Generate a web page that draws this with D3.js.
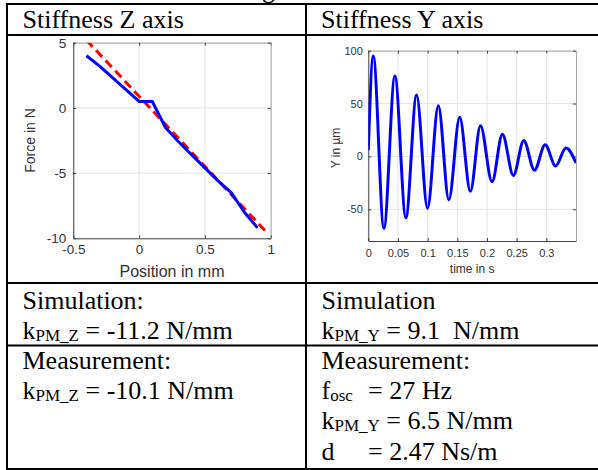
<!DOCTYPE html>
<html>
<head>
<meta charset="utf-8">
<script src="https://cdn.jsdelivr.net/npm/d3@7"></script>
<style>
  body { margin: 0; background: #fff; }
  svg { display: block; }
  .cell { font-family: "Liberation Serif", "Times New Roman", serif; font-size: 26px; fill: #000; white-space: pre; }
  .plot text { font-family: "Liberation Sans", Arial, sans-serif; fill: #333; }
  .plot .tick line { stroke: #444; }
  .plot .box .domain { stroke: #aaa; }
</style>
</head>
<body>
<div id="chart"></div>
<script>
const WIDTH = 598;
const HEIGHT = 470;

// Stiffness Z: force over position
const zPosition = [-0.4, -0.3, -0.2, -0.1, 0, 0.1, 0.2, 0.3, 0.4, 0.5, 0.6, 0.7, 0.8, 0.9];
const zForce = [4.0, 3.2, 2.3, 1.4, 0.5, 0.5, -1.5, -2.6, -3.6, -4.6, -5.6, -6.5, -8.0, -9.2];
const zFitPosition = [-0.4, 0.97];
const zFitForce = [5.2, -9.55];
const zXTicks = [-0.5, 0, 0.5, 1];
const zYTicks = [-10, -5, 0, 5];

// Stiffness Y: decaying oscillation (start, extrema, end)
const yTime = [0, 0.0084, 0.0263, 0.0448, 0.0633, 0.0813, 0.0998, 0.118, 0.1357, 0.154, 0.172,
               0.189, 0.2085, 0.226, 0.2444, 0.262, 0.280, 0.298, 0.3156, 0.333, 0.35];
const yDisp = [6, 95, -68, 76, -58, 58, -49, 48, -41, 37, -33,
               29, -24, 21, -18, 15, -13, 11, -9, 8, -6];
const yXTicks = [0, 0.05, 0.1, 0.15, 0.2, 0.25, 0.3];
const yYTicks = [-50, 0, 50, 100];

// table text
const headers = [
    { x: 22.5, y: 28, text: "Stiffness Z axis" },
    { x: 321, y: 28, text: "Stiffness Y axis" }
];
const cellLines = [
    { x: 22.5, y: 308.5, parts: [["Simulation:"]] },
    { x: 22.5, y: 338.5, parts: [["k"], ["PM_Z", 1], [" = -11.2 N/mm"]] },
    { x: 22.5, y: 369, parts: [["Measurement:"]] },
    { x: 22.5, y: 399, parts: [["k"], ["PM_Z", 1], [" = -10.1 N/mm"]] },
    { x: 321.5, y: 308.5, parts: [["Simulation"]] },
    { x: 321.5, y: 338.5, parts: [["k"], ["PM_Y", 1], [" = 9.1  N/mm"]] },
    { x: 321.5, y: 369, parts: [["Measurement:"]] },
    { x: 321.5, y: 399, parts: [["f"], ["osc", 1]] },
    { x: 368, y: 399, parts: [["= 27 Hz"]] },
    { x: 321.5, y: 429, parts: [["k"], ["PM_Y", 1], [" = 6.5 N/mm"]] },
    { x: 321.5, y: 460, parts: [["d"]] },
    { x: 368, y: 460, parts: [["= 2.47 Ns/m"]] }
];

const svg = d3.select("#chart")
    .append("svg")
        .attr("width", WIDTH)
        .attr("height", HEIGHT);

// caption line above the table, only its descender shows
svg.append("text")
    .attr("class", "cell")
    .attr("x", 262)
    .attr("y", -2)
    .text("g");

// table grid
const tableLines = [
    [6, 4, 598, 4],
    [7, 4, 7, 469],
    [306, 4, 306, 469],
    [7, 35, 598, 35],
    [7, 283, 598, 283],
    [7, 345.5, 598, 345.5],
    [6, 469, 598, 469]
];
svg.selectAll("line.table")
    .data(tableLines)
    .enter()
    .append("line")
        .attr("class", "table")
        .attr("x1", d => d[0]).attr("y1", d => d[1])
        .attr("x2", d => d[2]).attr("y2", d => d[3])
        .attr("stroke", "#000")
        .attr("stroke-width", 2);

svg.selectAll("text.head")
    .data(headers)
    .enter()
    .append("text")
        .attr("class", "cell head")
        .attr("x", d => d.x)
        .attr("y", d => d.y)
        .text(d => d.text);

const cellText = svg.selectAll("text.body")
    .data(cellLines)
    .enter()
    .append("text")
        .attr("class", "cell body")
        .attr("x", d => d.x)
        .attr("y", d => d.y);

cellText.each(function(d) {
    const t = d3.select(this);
    let shifted = false;
    d.parts.forEach(p => {
        const span = t.append("tspan").text(p[0]);
        if (p[1]) {
            span.attr("font-size", 17).attr("dy", 2);
            shifted = true;
        } else if (shifted) {
            span.attr("dy", -2);
            shifted = false;
        }
    });
});

function drawPlot(opt) {
    const g = svg.append("g").attr("class", "plot");
    const x = d3.scaleLinear().domain(opt.xDomain).range([opt.left, opt.right]);
    const y = d3.scaleLinear().domain(opt.yDomain).range([opt.bottom, opt.top]);

    // grid
    g.selectAll("line.gx")
        .data(opt.xTicks)
        .enter()
        .append("line")
            .attr("x1", d => x(d)).attr("x2", d => x(d))
            .attr("y1", opt.top).attr("y2", opt.bottom)
            .attr("stroke", "#e4e4e4");
    g.selectAll("line.gy")
        .data(opt.yTicks)
        .enter()
        .append("line")
            .attr("y1", d => y(d)).attr("y2", d => y(d))
            .attr("x1", opt.left).attr("x2", opt.right)
            .attr("stroke", "#e4e4e4");

    // box: top and right
    g.append("g")
        .attr("class", "box")
        .attr("transform", `translate(0, ${opt.top})`)
        .call(d3.axisTop(x).tickValues(opt.xTicks).tickSize(-3).tickSizeOuter(0).tickFormat(""));
    g.append("g")
        .attr("class", "box")
        .attr("transform", `translate(${opt.right}, 0)`)
        .call(d3.axisRight(y).tickValues(opt.yTicks).tickSize(-3).tickSizeOuter(0).tickFormat(""));

    const fmt = d => String(d);
    const xAxis = g.append("g")
        .attr("transform", `translate(0, ${opt.bottom})`)
        .call(d3.axisBottom(x).tickValues(opt.xTicks).tickSize(-3).tickSizeOuter(0)
            .tickPadding(opt.xPad).tickFormat(fmt));
    const yAxis = g.append("g")
        .attr("transform", `translate(${opt.left}, 0)`)
        .call(d3.axisLeft(y).tickValues(opt.yTicks).tickSize(-3).tickSizeOuter(0)
            .tickPadding(opt.yPad).tickFormat(fmt));
    xAxis.selectAll("text").attr("font-size", opt.tickFont).attr("fill", "#333");
    yAxis.selectAll("text").attr("font-size", opt.tickFont).attr("fill", "#333");
    xAxis.select(".domain").attr("stroke", "#444");
    yAxis.select(".domain").attr("stroke", "#444");

    g.append("text")
        .attr("x", (opt.left + opt.right) / 2)
        .attr("y", opt.xLabelY)
        .attr("text-anchor", "middle")
        .attr("font-size", opt.xLabelFont)
        .text(opt.xLabel);
    g.append("text")
        .attr("transform", `translate(${opt.yLabelX}, ${opt.yLabelCY}) rotate(-90)`)
        .attr("text-anchor", "middle")
        .attr("font-size", opt.yLabelFont)
        .text(opt.yLabel);

    const clipId = "clip" + Math.round(opt.left);
    g.append("clipPath").attr("id", clipId)
        .append("rect")
            .attr("x", opt.left).attr("y", opt.top)
            .attr("width", opt.right - opt.left)
            .attr("height", opt.bottom - opt.top);

    return { g, x, y, clip: `url(#${clipId})` };
}

// left: stiffness Z
const pz = drawPlot({
    left: 73.3, right: 270.7, top: 42.7, bottom: 238.3,
    xDomain: [-0.5, 1], yDomain: [-10, 5],
    xTicks: zXTicks, yTicks: zYTicks,
    tickFont: 13.5, xPad: 6, yPad: 7,
    xLabel: "Position in mm", xLabelY: 276.5, xLabelFont: 16,
    yLabel: "Force in N", yLabelX: 35, yLabelCY: 140.5, yLabelFont: 14
});

const zLine = d3.line().x(d => pz.x(d[0])).y(d => pz.y(d[1]));
pz.g.append("path")
    .datum(d3.zip(zFitPosition, zFitForce))
    .attr("d", zLine)
    .attr("clip-path", pz.clip)
    .attr("fill", "none")
    .attr("stroke", "#ff0000")
    .attr("stroke-width", 3)
    .attr("stroke-dasharray", "9,5");
pz.g.append("path")
    .datum(d3.zip(zPosition, zForce))
    .attr("d", zLine)
    .attr("clip-path", pz.clip)
    .attr("fill", "none")
    .attr("stroke", "#0000ff")
    .attr("stroke-width", 3)
    .attr("stroke-linejoin", "round");

// right: stiffness Y
const py = drawPlot({
    left: 368.3, right: 576, top: 50.7, bottom: 241,
    xDomain: [0, 0.35], yDomain: [-80, 100],
    xTicks: yXTicks, yTicks: yYTicks,
    tickFont: 11, xPad: 8, yPad: 5.5,
    xLabel: "time in s", xLabelY: 272.5, xLabelFont: 12,
    yLabel: "Y in µm", yLabelX: 340, yLabelCY: 148, yLabelFont: 12
});

py.g.append("path")
    .datum(d3.zip(yTime, yDisp))
    .attr("d", d3.line().curve(d3.curveMonotoneX).x(d => py.x(d[0])).y(d => py.y(d[1])))
    .attr("clip-path", py.clip)
    .attr("fill", "none")
    .attr("stroke", "#0000ff")
    .attr("stroke-width", 3);
</script>
</body>
</html>
